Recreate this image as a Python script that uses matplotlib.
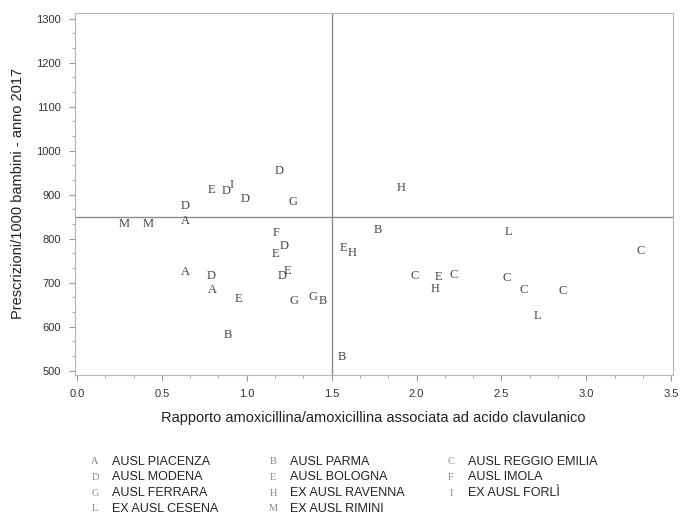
import matplotlib
matplotlib.use("Agg")
import matplotlib.pyplot as plt
from matplotlib.ticker import MultipleLocator, AutoMinorLocator

# points: letter of the AUSL, ratio (x), prescriptions per 1000 children (y)
group = ["A", "A", "A",
         "B", "B", "B", "B",
         "C", "C", "C", "C", "C", "C",
         "D", "D", "D", "D", "D", "D", "D",
         "E", "E", "E", "E", "E", "E",
         "F",
         "G", "G", "G",
         "H", "H", "H",
         "I",
         "L", "L",
         "M", "M"]
ratio = [0.64, 0.64, 0.80,
         0.89, 1.45, 1.56, 1.77,
         1.99, 2.22, 2.53, 2.63, 2.86, 3.32,
         0.64, 0.79, 0.88, 0.99, 1.19, 1.22, 1.21,
         0.79, 0.95, 1.17, 1.24, 1.57, 2.13,
         1.17,
         1.27, 1.28, 1.39,
         1.91, 1.62, 2.11,
         0.91,
         2.54, 2.71,
         0.28, 0.42]
prescr = [839, 723, 682,
          581, 657, 530, 819,
          714, 717, 710, 682, 680, 772,
          873, 714, 907, 891, 953, 782, 715,
          911, 662, 765, 727, 778, 712,
          812,
          882, 659, 667,
          915, 768, 685,
          921,
          814, 624,
          834, 834]

legend_letters = ["A", "B", "C", "D", "E", "F", "G", "H", "I", "L", "M"]
legend_names = ["AUSL PIACENZA", "AUSL PARMA", "AUSL REGGIO EMILIA",
                "AUSL MODENA", "AUSL BOLOGNA", "AUSL IMOLA",
                "AUSL FERRARA", "EX AUSL RAVENNA", "EX AUSL FORLÌ",
                "EX AUSL CESENA", "EX AUSL RIMINI"]

ref_x = 1.5
ref_y = 850

plt.rcParams["font.family"] = ["Liberation Sans", "DejaVu Sans"]

fig = plt.figure(figsize=(6.8, 5.15), dpi=100)
ax = fig.add_axes([0.110, 0.272, 0.879, 0.703])

for g, x, y in zip(group, ratio, prescr):
    ax.text(x, y, g, family="Liberation Serif", fontsize=9, color="#444444",
            ha="center", va="center")

ax.axvline(ref_x, color="#8a8a8a", lw=1)
ax.axhline(ref_y, color="#8a8a8a", lw=1)

ax.set_xlim(-0.013, 3.508)
ax.set_ylim(490, 1313)
ax.xaxis.set_major_locator(MultipleLocator(0.5))
ax.yaxis.set_major_locator(MultipleLocator(100))
ax.xaxis.set_minor_locator(AutoMinorLocator(3))
ax.yaxis.set_minor_locator(AutoMinorLocator(3))
ax.xaxis.set_major_formatter(plt.FormatStrFormatter("%.1f"))

for s in ax.spines.values():
    s.set_color("#b5b5b5")
ax.tick_params(which="major", length=4, color="#999999", labelsize=8,
               labelcolor="#333333", pad=6)
ax.tick_params(which="minor", length=2.5, color="#999999")

ax.set_xlabel("Rapporto amoxicillina/amoxicillina associata ad acido clavulanico",
              fontsize=10.5, color="#222222", labelpad=9)
ax.set_ylabel("Prescrizioni/1000 bambini - anno 2017", fontsize=10.5,
              color="#222222", labelpad=8)

# legend laid out row by row, three columns
for i, (l, name) in enumerate(zip(legend_letters, legend_names)):
    r, c = divmod(i, 3)
    x0 = (95 + c * 178) / 680
    y0 = 1 - (462 + r * 15.5) / 515
    fig.text(x0, y0, l, family="Liberation Serif", fontsize=7.5,
             color="#888888", ha="center", va="center")
    fig.text(x0 + 17 / 680, y0, name, fontsize=9, color="#222222",
             ha="left", va="center")

fig.savefig("out.png", dpi=100)
